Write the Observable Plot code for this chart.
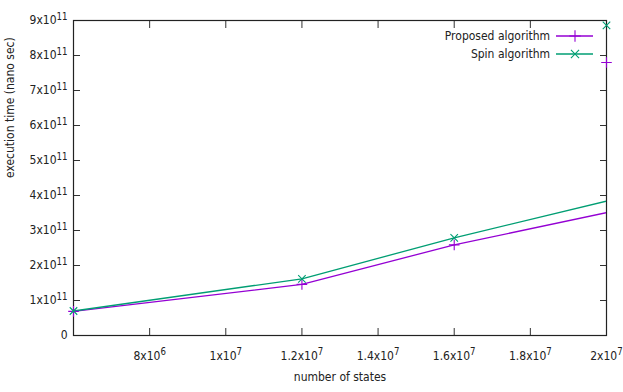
<!DOCTYPE html>
<html>
<head>
<meta charset="utf-8">
<script src="https://cdn.jsdelivr.net/npm/d3@7"></script>
<script src="https://cdn.jsdelivr.net/npm/@observablehq/plot@0.6"></script>
<style>
  html, body { margin: 0; padding: 0; background: #fff; }
  #chart { width: 623px; height: 392px; }
</style>
</head>
<body>
<div id="chart"></div>
<script>
// ---- data ----
const states = [6e6, 1.2e7, 1.6e7, 2e7];
const proposed = [0.69e11, 1.46e11, 2.59e11, 3.51e11];
const spin = [0.70e11, 1.62e11, 2.79e11, 3.84e11];
// stray points drawn at the right border
const strayStates = [2e7, 2e7];
const strayValues = [7.8e11, 8.86e11];
const straySeries = ["Proposed algorithm", "Spin algorithm"];
const seriesNames = ["Proposed algorithm", "Spin algorithm"];
const xTicks = [8e6, 1e7, 1.2e7, 1.4e7, 1.6e7, 1.8e7, 2e7];
const yTicks = [0, 1e11, 2e11, 3e11, 4e11, 5e11, 6e11, 7e11, 8e11, 9e11];
const xLabel = "number of states";
const yLabel = "execution time (nano sec)";

const colors = {"Proposed algorithm": "#9400d3", "Spin algorithm": "#009e73"};
const symbols = {"Proposed algorithm": "plus", "Spin algorithm": "times"};

const rows = [];
states.forEach((s, i) => {
  rows.push({series: seriesNames[0], x: s, y: proposed[i], idx: i});
  rows.push({series: seriesNames[1], x: s, y: spin[i], idx: i});
});
const markerRows = rows.filter(d => d.idx < states.length - 1);
const stray = strayStates.map((s, i) => ({series: straySeries[i], x: s, y: strayValues[i]}));

function sci(v) {
  if (v === 0) return "0";
  const e = Math.floor(Math.log10(v) + 1e-9);
  const m = +(v / Math.pow(10, e)).toFixed(1);
  return m + "x10^" + e;
}
const none = () => "";

const font = "'DejaVu Sans Condensed', 'DejaVu Sans', sans-serif";

const chart = Plot.plot({
  width: 623,
  height: 392,
  marginLeft: 73,
  marginRight: 17,
  marginTop: 20,
  marginBottom: 57,
  style: {fontFamily: font, fontSize: "12px", color: "#222", background: "#fff"},
  x: {domain: [6e6, 2e7]},
  y: {domain: [0, 9e11]},
  marks: [
    // inward ticks on all four sides
    Plot.axisY(yTicks, {anchor: "left", tickSize: -7, tickFormat: none, label: null, stroke: "#333"}),
    Plot.axisY(yTicks, {anchor: "right", tickSize: -7, tickFormat: none, label: null, stroke: "#333"}),
    Plot.axisX(xTicks, {anchor: "bottom", tickSize: -7, tickFormat: none, label: null, stroke: "#333"}),
    Plot.axisX(xTicks, {anchor: "top", tickSize: -7, tickFormat: none, label: null, stroke: "#333"}),
    // tick labels
    Plot.axisY(yTicks, {anchor: "left", tickSize: 0, tickPadding: 6, tickFormat: sci, label: null, fill: "#222"}),
    Plot.axisX(xTicks, {anchor: "bottom", tickSize: 0, tickPadding: 16, tickFormat: sci, label: null, fill: "#222"}),
    Plot.frame({stroke: "#222", strokeWidth: 1.2}),
    // series lines
    Plot.line(rows, {x: "x", y: "y", z: "series", stroke: d => colors[d.series], strokeWidth: 1.3, clip: true}),
    Plot.dot(markerRows, {x: "x", y: "y", symbol: d => symbols[d.series], stroke: d => colors[d.series], r: 3.5, strokeWidth: 1.1}),
    Plot.dot(stray, {x: "x", y: "y", symbol: d => symbols[d.series], stroke: d => colors[d.series], r: 3.5, strokeWidth: 1.1}),
    // axis titles
    Plot.text([yLabel], {frameAnchor: "left", rotate: -90, dx: -63, fill: "#222", fontSize: 12}),
    Plot.text([xLabel], {frameAnchor: "bottom", dy: 45, fill: "#222", fontSize: 12})
  ]
});

// superscripts
d3.select(chart).selectAll("text").each(function() {
  const t = this.textContent;
  if (t.includes("^")) {
    const [base, exp] = t.split("^");
    const sel = d3.select(this);
    sel.text(null);
    sel.append("tspan").text(base);
    sel.append("tspan").attr("dy", "-0.5em").attr("font-size", "0.8em").text(exp);
  }
});

// legend (top-right, inside frame)
const svg = d3.select(chart);
const lg = svg.append("g").attr("font-family", font).attr("font-size", 12);
const legendRight = 623 - 17;
seriesNames.forEach((name, i) => {
  const y = 36 + i * 18;
  lg.append("text").attr("x", legendRight - 56).attr("y", y).attr("dy", "0.32em")
    .attr("text-anchor", "end").attr("fill", "#222").text(name);
  lg.append("line").attr("x1", legendRight - 50).attr("x2", legendRight - 13)
    .attr("y1", y).attr("y2", y).attr("stroke", colors[name]).attr("stroke-width", 1.3);
  const sym = name === seriesNames[0] ? d3.symbolPlus : d3.symbolTimes;
  lg.append("path").attr("transform", `translate(${legendRight - 31},${y})`)
    .attr("d", d3.symbol(sym, 45)).attr("fill", "none").attr("stroke", colors[name]).attr("stroke-width", 1.1);
});

document.getElementById("chart").appendChild(chart);
</script>
</body>
</html>
